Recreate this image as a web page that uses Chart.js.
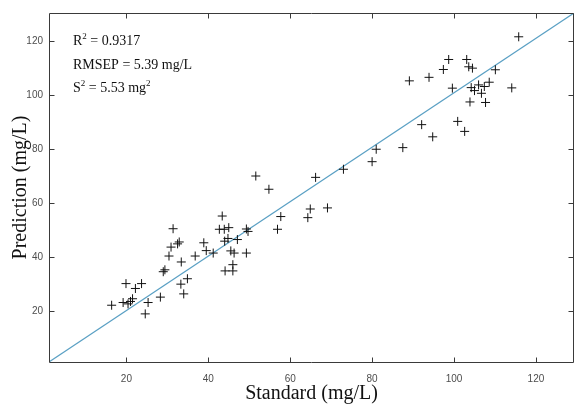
<!DOCTYPE html>
<html>
<head>
<meta charset="utf-8">
<script src="https://cdn.jsdelivr.net/npm/chart.js@4.4.1/dist/chart.umd.min.js"></script>
<style>
  html, body { margin: 0; padding: 0; background: #ffffff; }
  #wrap { width: 575px; height: 405px; }
</style>
</head>
<body>
<div id="wrap"><canvas id="c" width="575" height="405"></canvas></div>
<script>
// ---- data ----
const standardValues = [
  16.4, 19.9, 19.2, 20.4, 21.0, 21.5, 22.2, 23.7, 25.3, 24.6,
  28.3, 29.0, 29.4, 30.4, 30.9, 31.4, 32.5, 32.9, 33.4, 33.3,
  34.0, 34.9, 36.8, 38.9, 39.5, 41.2, 43.4, 42.7, 43.9, 45.0,
  44.8, 44.0, 47.1, 45.5, 46.3, 46.0, 44.1, 46.0, 49.3, 49.7,
  49.3, 51.6, 54.8, 56.9, 57.7, 64.3, 64.9, 66.2, 69.1, 73.0,
  80.0, 81.0, 87.5, 115.8, 98.7, 103.1, 97.4, 103.6, 104.5, 110.1,
  89.1, 93.9, 99.6, 104.2, 106.0, 105.0, 107.4, 108.6, 106.7, 114.1,
  103.9, 107.7, 92.1, 100.9, 94.8, 102.6
];
const predictionValues = [
  22.3, 30.3, 23.3, 22.8, 23.7, 24.7, 28.5, 30.3, 23.3, 19.1,
  25.3, 34.7, 35.4, 40.5, 43.8, 50.6, 45.0, 45.7, 38.3, 30.1,
  26.5, 32.1, 40.5, 45.4, 42.5, 41.6, 55.3, 50.4, 50.4, 51.0,
  47.0, 46.0, 46.6, 42.4, 41.6, 37.3, 35.0, 35.0, 50.5, 49.6,
  41.6, 70.1, 65.2, 50.4, 55.1, 54.7, 57.9, 69.6, 58.3, 72.6,
  75.4, 80.0, 80.6, 121.6, 113.2, 113.2, 109.5, 110.5, 110.0, 109.4,
  105.3, 106.6, 102.6, 102.8, 103.8, 101.7, 103.2, 104.8, 100.7, 102.7,
  97.5, 97.3, 89.1, 90.3, 84.6, 86.6
];
const xTickValues = [20, 40, 60, 80, 100, 120];
const yTickValues = [20, 40, 60, 80, 100, 120];
const xLimits = [1.1, 129.3];
const yLimits = [1.3, 130.4];
const statLines = [
  ["R", "2", " = 0.9317"],
  ["RMSEP = 5.39 mg/L", "", ""],
  ["S", "2", " = 5.53 mg", "2"]
];
const xTitle = "Standard (mg/L)";
const yTitle = "Prediction (mg/L)";

// ---- build ----
const points = standardValues.map((x, i) => ({ x: x, y: predictionValues[i] }));
const fitLine = [{ x: xLimits[0], y: yLimits[0] }, { x: xLimits[1], y: yLimits[1] }];

const framePlugin = {
  id: 'frame',
  afterDraw(chart) {
    const ctx = chart.ctx;
    const a = chart.chartArea;
    const xs = chart.scales.x, ys = chart.scales.y;
    const L = Math.round(a.left) + 0.5, R = Math.round(a.right) - 0.5;
    const T = Math.round(a.top) + 0.5, B = Math.round(a.bottom) + 0.5;
    ctx.save();
    ctx.strokeStyle = '#3a3a3a';
    ctx.lineWidth = 1;
    ctx.beginPath();
    ctx.moveTo(L, T); ctx.lineTo(R, T); ctx.lineTo(R, B); ctx.lineTo(L, B); ctx.closePath();
    ctx.stroke();
    const tl = 5;
    ctx.beginPath();
    xTickValues.forEach(v => {
      const p = Math.round(xs.getPixelForValue(v)) + 0.5;
      ctx.moveTo(p, B); ctx.lineTo(p, B - tl);
      ctx.moveTo(p, T); ctx.lineTo(p, T + tl);
    });
    yTickValues.forEach(v => {
      const p = Math.round(ys.getPixelForValue(v)) + 0.5;
      ctx.moveTo(L, p); ctx.lineTo(L + tl, p);
      ctx.moveTo(R, p); ctx.lineTo(R - tl, p);
    });
    ctx.stroke();

    // statistics text
    ctx.fillStyle = '#111111';
    ctx.textBaseline = 'alphabetic';
    ctx.textAlign = 'left';
    const big = '14px "Liberation Serif", "Times New Roman", serif';
    const small = '9px "Liberation Serif", "Times New Roman", serif';
    const baselines = [45, 68.5, 91.5];
    statLines.forEach((parts, i) => {
      let x = a.left + 24;
      const y = baselines[i];
      parts.forEach((s, j) => {
        if (!s) return;
        const sup = (j % 2 === 1);
        ctx.font = sup ? small : big;
        ctx.fillText(s, x, sup ? y - 6 : y);
        x += ctx.measureText(s).width;
      });
    });
    ctx.restore();
  }
};

new Chart(document.getElementById('c'), {
  type: 'scatter',
  data: {
    datasets: [
      {
        type: 'line',
        data: fitLine,
        borderColor: '#5aa0c4',
        borderWidth: 1.2,
        pointRadius: 0,
        fill: false,
        order: 2
      },
      {
        data: points,
        pointStyle: 'cross',
        pointRadius: 4.5,
        borderColor: '#111111',
        backgroundColor: '#111111',
        borderWidth: 1,
        order: 1
      }
    ]
  },
  options: {
    responsive: false,
    animation: false,
    devicePixelRatio: 1,
    layout: { autoPadding: false, padding: { top: 13, right: 1, left: 0, bottom: 0 } },
    plugins: { legend: { display: false }, tooltip: { enabled: false } },
    scales: {
      x: {
        type: 'linear',
        min: xLimits[0], max: xLimits[1],
        afterBuildTicks: s => { s.ticks = xTickValues.map(v => ({ value: v })); },
        afterFit: s => { s.height = 43; s.paddingLeft = 0; s.paddingRight = 0; },
        grid: { display: false, drawTicks: false },
        border: { display: false },
        ticks: {
          padding: 11,
          color: '#4d4d4d',
          font: { family: '"Liberation Sans", Arial, sans-serif', size: 10 },
          maxRotation: 0, autoSkip: false
        },
        title: {
          display: true, text: xTitle, color: '#111111',
          font: { family: '"Liberation Serif", "Times New Roman", serif', size: 20, lineHeight: 1 },
          padding: { top: 0, bottom: 1 }
        }
      },
      y: {
        type: 'linear',
        min: yLimits[0], max: yLimits[1],
        afterBuildTicks: s => { s.ticks = yTickValues.map(v => ({ value: v })); },
        afterFit: s => { s.width = 49; s.paddingTop = 0; s.paddingBottom = 0; },
        grid: { display: false, drawTicks: false },
        border: { display: false },
        ticks: {
          padding: 6,
          color: '#4d4d4d',
          font: { family: '"Liberation Sans", Arial, sans-serif', size: 10 },
          autoSkip: false
        },
        title: {
          display: true, text: yTitle, color: '#111111',
          font: { family: '"Liberation Serif", "Times New Roman", serif', size: 20, lineHeight: 1 },
          padding: { top: 11, bottom: 0 }
        }
      }
    }
  },
  plugins: [framePlugin]
});
</script>
</body>
</html>
